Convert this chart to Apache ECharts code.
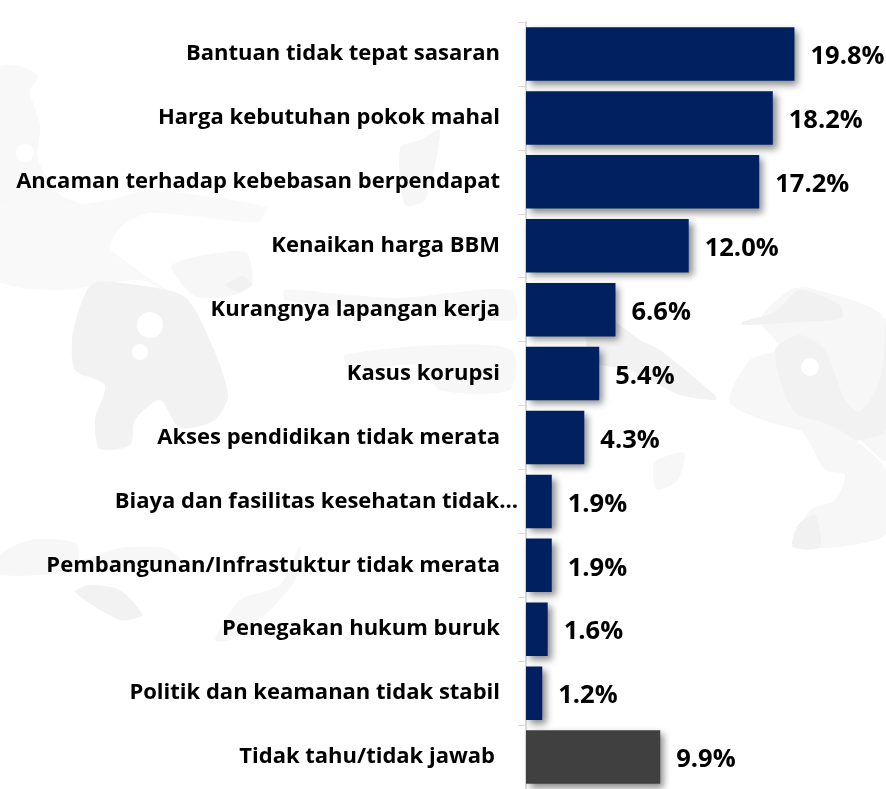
<!DOCTYPE html>
<html><head><meta charset="utf-8">
<style>html,body{margin:0;padding:0;background:#fff}#c{width:886px;height:789px}</style>
<script src="https://cdn.jsdelivr.net/npm/echarts@6/dist/echarts.min.js"></script>
</head><body><div id="c"></div>
<script>
const categories = ["Bantuan tidak tepat sasaran","Harga kebutuhan pokok mahal","Ancaman terhadap kebebasan berpendapat","Kenaikan harga BBM","Kurangnya lapangan kerja","Kasus korupsi","Akses pendidikan tidak merata","Biaya dan fasilitas kesehatan tidak…","Pembangunan/Infrastuktur tidak merata","Penegakan hukum buruk","Politik dan keamanan tidak stabil","Tidak tahu/tidak jawab"];
const values = [19.8,18.2,17.2,12.0,6.6,5.4,4.3,1.9,1.9,1.6,1.2,9.9];
const labelGaps = [18,18,18,18,18,18,18,0,18,18,18,23];
const barColors = ["#00205f","#00205f","#00205f","#00205f","#00205f","#00205f","#00205f","#00205f","#00205f","#00205f","#00205f","#404040"];
const font = "'Open Sans', sans-serif";
// faint map watermark behind the chart: [fill, outline points]
const watermark = [
  ['#f8f8f8',[[0,68],[20,66],[38,76],[30,92],[40,125],[38,160],[60,195],[80,205],[60,240],[28,262],[0,282]]],
  ['#f9f9f9',[[0,205],[60,200],[82,204],[118,198],[150,190],[266,207],[258,222],[150,213],[122,226],[110,247],[132,266],[175,296],[140,280],[60,290],[0,280]]],
  ['#f2f2f2',[[92,284],[130,284],[185,297],[212,345],[228,395],[215,420],[180,428],[160,400],[135,420],[130,445],[100,449],[95,420],[105,385],[75,370],[73,332]]],
  ['#f7f7f7',[[172,265],[245,252],[252,285],[230,296],[195,296]]],
  ['#f1f1f1',[[226,285],[243,276],[252,285],[240,292]]],
  ['#f6f6f6',[[400,148],[420,140],[440,130],[425,200],[405,205]]],
  ['#f7f7f7',[[285,290],[350,295],[400,298],[510,290],[515,320],[400,312],[285,300]]],
  ['#f7f7f7',[[345,355],[440,345],[512,350],[510,390],[440,390],[420,365],[350,370]]],
  ['#f2f2f2',[[590,300],[620,325],[640,340],[660,350],[715,395],[716,400],[680,395],[630,370],[590,360]]],
  ['#f7f7f7',[[730,403],[750,360],[780,348],[760,320],[790,290],[810,288],[886,320],[886,460],[860,440],[830,420],[800,430]]],
  ['#f1f1f1',[[742,322],[775,312],[800,290],[840,305],[842,318],[800,322],[742,325]]],
  ['#f2f2f2',[[775,350],[800,335],[825,350],[845,400],[860,412],[880,380],[886,318],[886,430],[830,440],[790,405]]],
  ['#f7f7f7',[[728,403],[800,430],[825,470],[845,475],[835,500],[810,510],[793,547],[886,535],[886,470],[830,425]]],
  ['#f1f1f1',[[793,547],[798,525],[815,515],[820,547]]],
  ['#f7f7f7',[[655,462],[684,453],[678,480],[660,490],[655,488]]],
  ['#f7f7f7',[[0,555],[30,540],[65,540],[78,545],[80,560],[120,548],[165,548],[180,560],[100,570],[0,575]]],
  ['#f2f2f2',[[75,592],[90,585],[120,590],[142,615],[120,620]]],
  ['#f7f7f7',[[215,640],[240,600],[280,585],[300,545],[295,580],[270,610],[230,640]]]
];
const watermarkHoles = [[25,153,9],[150,325,13],[140,352,8],[810,367,9]];
const chart = echarts.init(document.getElementById('c'));
chart.setOption({
  animation:false,
  backgroundColor:'#fff',
  graphic:{elements:[
    ...watermark.map(w=>({type:'polygon',silent:true,z:-10,shape:{points:w[1],smooth:0.25},style:{fill:w[0]}})),
    ...watermarkHoles.map(h=>({type:'circle',silent:true,z:-9,shape:{cx:h[0],cy:h[1],r:h[2]},style:{fill:'#fff'}}))
  ]},
  grid:{left:526,top:22,width:360,height:768,containLabel:false},
  xAxis:{type:'value',min:0,max:26.55,show:false},
  yAxis:{type:'category',inverse:true,offset:1,
    data:categories.map((c,i)=>({value:c,textStyle:{padding:[7,labelGaps[i],0,0]}})),
    axisLine:{show:true,lineStyle:{color:'#dcdcdc',width:2}},
    axisTick:{show:true,length:8,lineStyle:{color:'#dcdcdc',width:1}},
    axisLabel:{margin:7,interval:0,color:'#000',fontFamily:font,fontWeight:'bold',fontSize:22,lineHeight:24}},
  series:[{type:'bar',barWidth:53.5,
    data:values.map((v,i)=>({value:v,itemStyle:{color:barColors[i]}})),
    itemStyle:{shadowColor:'rgba(0,0,0,0.45)',shadowBlur:7,shadowOffsetX:4,shadowOffsetY:4},
    label:{show:true,position:'right',distance:16,offset:[0,3],color:'#000',fontFamily:font,fontWeight:'bold',fontSize:25.5,formatter:p=>p.value.toFixed(1)+'%'}}]
});
</script></body></html>
